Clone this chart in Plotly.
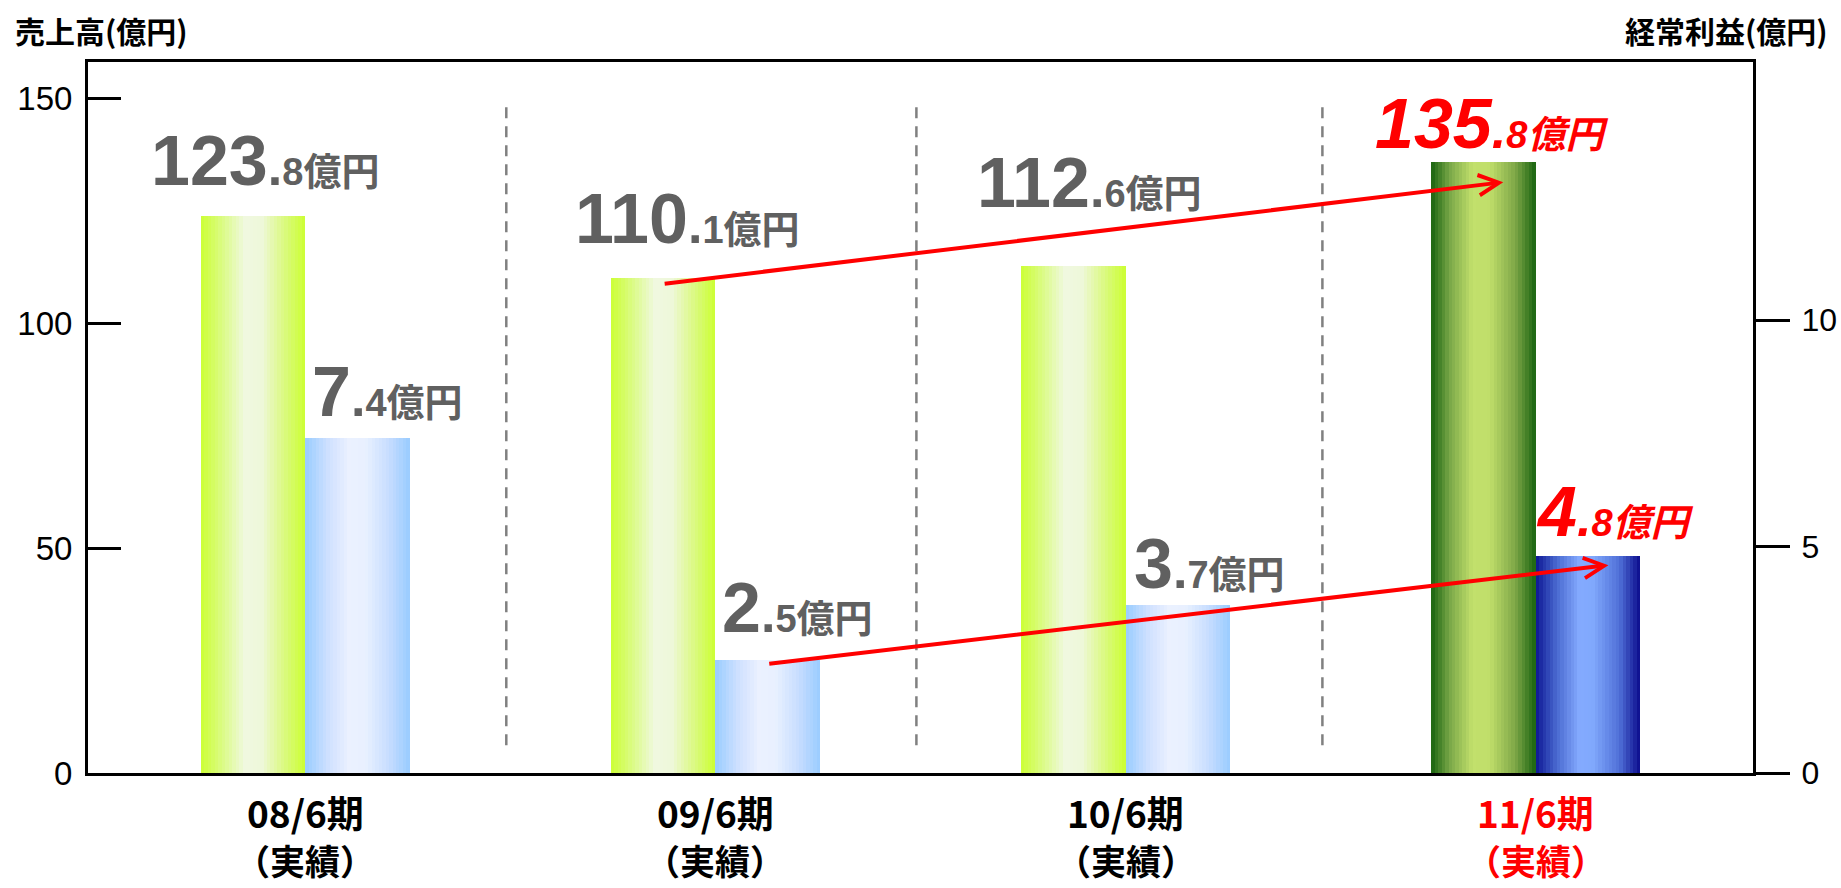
import plotly.graph_objects as go

# ---------------- data ----------------
periods = ["08/6期", "09/6期", "10/6期", "11/6期"]
period_sub = ["（実績）", "（実績）", "（実績）", "（実績）"]
sales = [123.8, 110.1, 112.6, 135.8]          # 売上高 (億円), left axis
profit = [7.4, 2.5, 3.7, 4.8]                 # 経常利益 (億円), right axis
left_ticks = [0, 50, 100, 150]
right_ticks = [0, 5, 10]
highlight = [False, False, False, True]

# ---------------- styling ----------------
W, H = 1841, 888
BAR_W = 0.255
NSL = 30
LABEL_FONT = "Liberation Sans, Arial, Noto Sans CJK JP"
CJK_FONT = "Noto Sans CJK JP, Liberation Sans"
GRAY = "#606060"
RED = "#ff0000"

def hex2rgb(h):
    h = h.lstrip("#")
    return tuple(int(h[i:i + 2], 16) for i in (0, 2, 4))

def grad(stops, t):
    for (p0, c0), (p1, c1) in zip(stops, stops[1:]):
        if p0 <= t <= p1:
            f = 0 if p1 == p0 else (t - p0) / (p1 - p0)
            a, b = hex2rgb(c0), hex2rgb(c1)
            return "rgb(%d,%d,%d)" % tuple(round(a[i] + (b[i] - a[i]) * f) for i in range(3))
    return stops[-1][1]

light_green = [(0, "#ccff33"), (0.22, "#dcfb8a"), (0.42, "#f0f8e0"), (0.58, "#eef8da"), (0.8, "#daf980"), (1, "#ccff33")]
light_blue = [(0, "#99ccff"), (0.22, "#cfe0ff"), (0.42, "#ebf1ff"), (0.58, "#e8f0ff"), (0.8, "#c6dcff"), (1, "#99ccff")]
dark_green = [(0, "#1a6410"), (0.18, "#7aa848"), (0.4, "#c2e06c"), (0.56, "#c0de6a"), (0.8, "#7fa848"), (1, "#1a6410")]
dark_blue = [(0, "#0c1694"), (0.2, "#4a6ad0"), (0.42, "#84aaff"), (0.55, "#80a8fc"), (0.8, "#5070d8"), (1, "#0a0a8c")]

fig = go.Figure()

def add_gradient_bars(values, base_offset, normal, special, yaxis):
    step = BAR_W / NSL
    for k in range(NSL):
        t = (k + 0.5) / NSL
        colors = [grad(special, t) if hl else grad(normal, t) for hl in highlight]
        off = base_offset + k * step
        wid = min(step * 1.7, BAR_W - k * step)
        fig.add_trace(go.Bar(
            x=periods, y=values, offset=off, width=wid,
            marker=dict(color=colors, line=dict(width=0)),
            yaxis=yaxis, showlegend=False, hoverinfo="skip",
        ))

add_gradient_bars(sales, -BAR_W, light_green, dark_green, "y")
add_gradient_bars(profit, 0.0, light_blue, dark_blue, "y2")

annotations = []

# value labels
def value_label(v, red=False):
    s = f"{v:.1f}"
    ip, dp = s.split(".")
    txt = (f"<b><span style='font-size:70px'>{ip}</span><span style='font-size:52px'>.</span>"
           f"<span style='font-size:38px'>{dp}億円</span></b>")
    if red:
        txt = "<i>" + txt + "</i>"
    return txt

sales_xshift = [12, 24, 16, 8]
sales_yshift = [14, 18, 42, -3]
profit_xshift = [30, 30, 32, 27]
profit_yshift = [5, 11, 0, 3]

for i, v in enumerate(sales):
    annotations.append(dict(
        x=i - BAR_W / 2, y=v, xref="x", yref="y", text=value_label(v, highlight[i]),
        showarrow=False, xanchor="center", yanchor="bottom",
        xshift=sales_xshift[i], yshift=sales_yshift[i],
        font=dict(family=LABEL_FONT, size=38, color=RED if highlight[i] else GRAY),
    ))
for i, v in enumerate(profit):
    annotations.append(dict(
        x=i + BAR_W / 2, y=v, xref="x", yref="y2", text=value_label(v, highlight[i]),
        showarrow=False, xanchor="center", yanchor="bottom",
        xshift=profit_xshift[i], yshift=profit_yshift[i],
        font=dict(family=LABEL_FONT, size=38, color=RED if highlight[i] else GRAY),
    ))

# trend arrows
annotations.append(dict(
    x=3 - 0.079, y=sales[3] - 4.5, xref="x", yref="y",
    ax=1 - BAR_W / 2, ay=sales[1] - 1.4, axref="x", ayref="y",
    showarrow=True, arrowhead=5, arrowsize=1, arrowwidth=4, arrowcolor=RED,
    standoff=0, startstandoff=0, text="",
))
annotations.append(dict(
    x=3 + BAR_W / 2 + 0.05, y=profit[3] - 0.21, xref="x", yref="y2",
    ax=1 + BAR_W / 2, ay=profit[1] - 0.09, axref="x", ayref="y2",
    showarrow=True, arrowhead=5, arrowsize=1, arrowwidth=4, arrowcolor=RED,
    standoff=0, startstandoff=0, text="",
))

# category labels
for i, (p, s) in enumerate(zip(periods, period_sub)):
    col = RED if highlight[i] else "black"
    annotations.append(dict(x=i, y=-0.0549, xref="x", yref="paper", text=f"<b>{p}</b>",
                            showarrow=False, xanchor="center", yanchor="middle",
                            font=dict(family=CJK_FONT, size=37, color=col)))
    annotations.append(dict(x=i, y=-0.121, xref="x", yref="paper", text=f"<b>{s}</b>",
                            showarrow=False, xanchor="center", yanchor="middle",
                            borderpad=0,
                            font=dict(family=CJK_FONT, size=35, color=col)))

# axis titles
annotations.append(dict(x=-0.045, y=1.045, xref="paper", yref="paper", text="<b>売上高(億円)</b>",
                        showarrow=False, xanchor="left", yanchor="middle",
                        font=dict(family=CJK_FONT, size=30, color="black")))
annotations.append(dict(x=1.046, y=1.045, xref="paper", yref="paper", text="<b>経常利益(億円)</b>",
                        showarrow=False, xanchor="right", yanchor="middle",
                        font=dict(family=CJK_FONT, size=30, color="black")))

# dashed separators
shapes = []
for xs in [0.49, 1.49, 2.48]:
    shapes.append(dict(type="line", xref="x", yref="paper", x0=xs, x1=xs, y0=0.039, y1=0.942,
                       line=dict(color="#808080", width=2.5, dash="11px,8px"), layer="below"))

fig.update_layout(
    width=W, height=H,
    margin=dict(l=88, r=88, t=62, b=115, pad=0, autoexpand=False),
    paper_bgcolor="white", plot_bgcolor="white",
    barmode="overlay", bargap=0,
    showlegend=False,
    annotations=annotations, shapes=shapes,
    xaxis=dict(type="category", range=[-0.53, 3.53], showline=True, mirror=True,
               linecolor="black", linewidth=3, showticklabels=False, ticks="",
               showgrid=False, zeroline=False, fixedrange=True, automargin=False),
    yaxis=dict(range=[0, 158], tickvals=left_ticks, ticks="inside", ticklen=33, tickwidth=3,
               tickcolor="black", showline=True, linecolor="black", linewidth=3,
               showgrid=False, zeroline=False, ticklabelstandoff=6, automargin=False,
               tickfont=dict(family="Liberation Sans, Arial", size=33, color="black")),
    yaxis2=dict(range=[0, 15.7], tickvals=right_ticks, overlaying="y", side="right",
                ticks="outside", ticklen=34, tickwidth=3, tickcolor="black",
                showline=True, linecolor="black", linewidth=3, automargin=False,
                showgrid=False, zeroline=False, ticklabelstandoff=5,
                tickfont=dict(family="Liberation Sans, Arial", size=32, color="black")),
)

fig.write_html("out.html")
